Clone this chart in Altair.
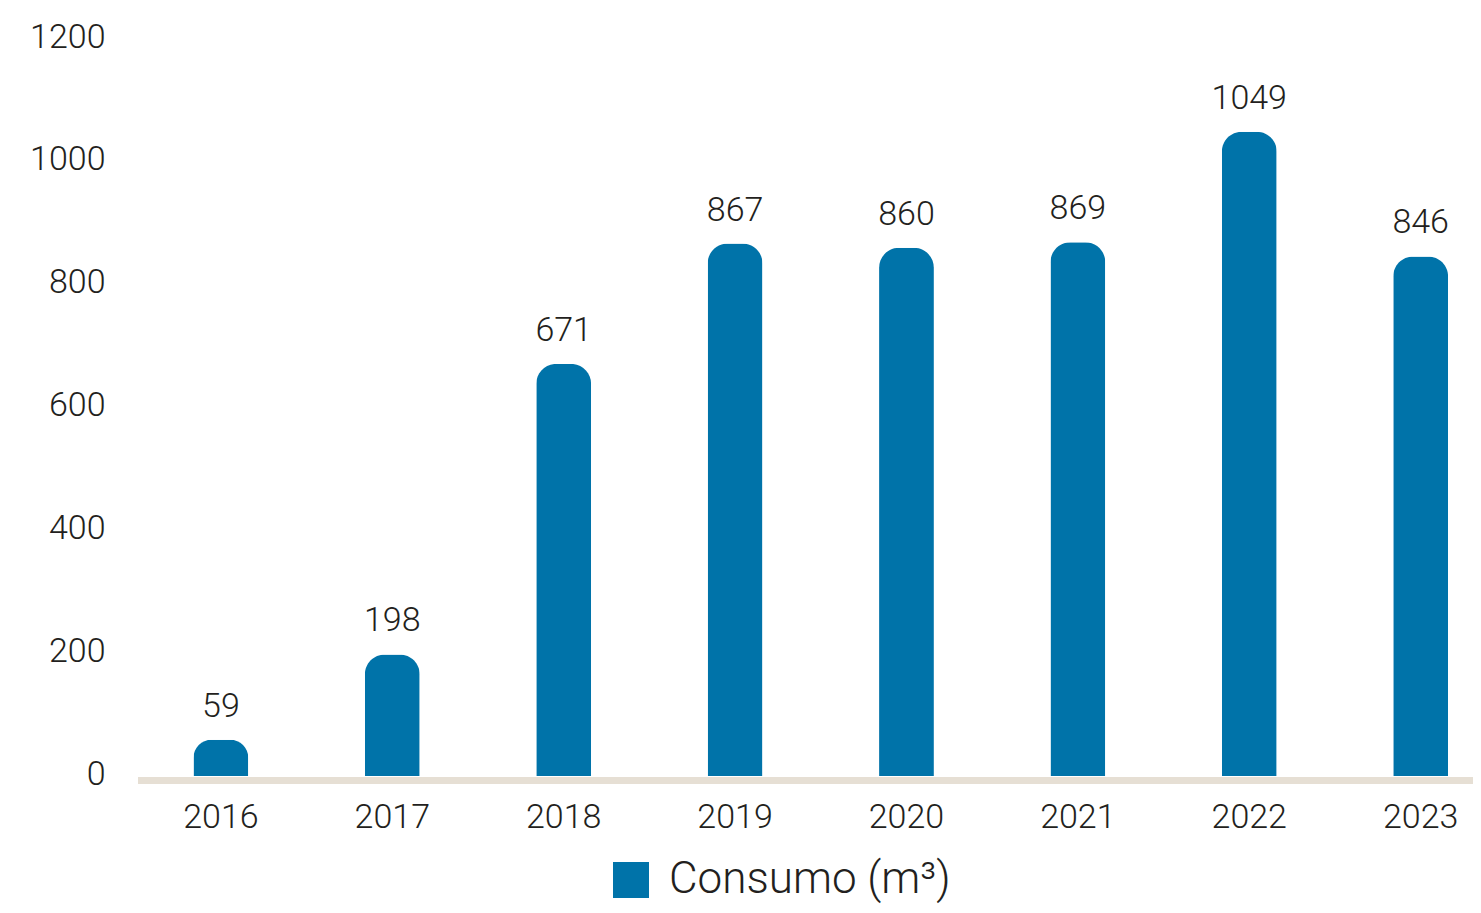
import altair as alt
import pandas as pd

years = ["2016", "2017", "2018", "2019", "2020", "2021", "2022", "2023"]
consumo = [59, 198, 671, 867, 860, 869, 1049, 846]
serie = "Consumo (m³)"

df = pd.DataFrame({"ano": years, "valor": consumo, "serie": [serie] * len(years)})

FONT = "Roboto"
FW = 300
TXT = "#231f20"
BLUE = "#0073a9"

x = alt.X(
    "ano:O",
    sort=years,
    scale=alt.Scale(paddingInner=0.68, paddingOuter=0.2345, align=0.69),
    axis=alt.Axis(
        title=None, labelAngle=0, domain=False, ticks=False, tickSize=0,
        labelFontSize=34, labelFont=FONT, labelFontWeight=FW, labelColor=TXT,
        labelBaseline="alphabetic", labelPadding=51,
    ),
)
y = alt.Y(
    "valor:Q",
    scale=alt.Scale(domain=[0, 1200], nice=False),
    axis=alt.Axis(
        title=None, values=[0, 200, 400, 600, 800, 1000, 1200], format="d",
        grid=False, domain=False, ticks=False, tickSize=0, labelFontSize=34,
        labelFont=FONT, labelFontWeight=FW, labelColor=TXT, labelPadding=33,
        labelOffset=-2,
    ),
)

base = alt.Chart(df)

bars = base.mark_bar(cornerRadiusTopLeft=20, cornerRadiusTopRight=20).encode(
    x=x,
    y=y,
    color=alt.Color(
        "serie:N",
        scale=alt.Scale(range=[BLUE]),
        legend=alt.Legend(
            title=None, orient="none", legendX=471, legendY=819,
            symbolType="square", symbolSize=1296, symbolStrokeWidth=0,
            labelFontSize=44, labelFont=FONT, labelFontWeight=FW,
            labelColor=TXT, labelOffset=16, labelLimit=0,
        ),
    ),
)

labels = base.mark_text(
    font=FONT, fontSize=34, fontWeight=FW, color=TXT, baseline="alphabetic", dy=-23
).encode(x=x, y=y, text="valor:Q")

baseline = alt.Chart(pd.DataFrame({"valor": [0]})).mark_rule(
    color="#e6dfd4", strokeWidth=7, yOffset=4.5
).encode(y=y)

chart = (
    alt.layer(bars, labels, baseline)
    .properties(
        width=1335,
        height=737,
        background="white",
        autosize=alt.AutoSizeParams(type="none"),
        padding={"left": 130, "top": 31, "right": 0, "bottom": 129},
    )
    .configure_view(stroke="transparent", strokeWidth=0)
    .configure_axis(domain=False, grid=False, ticks=False)
)

chart.save("out.html", embed_options={"renderer": "svg", "actions": False})
